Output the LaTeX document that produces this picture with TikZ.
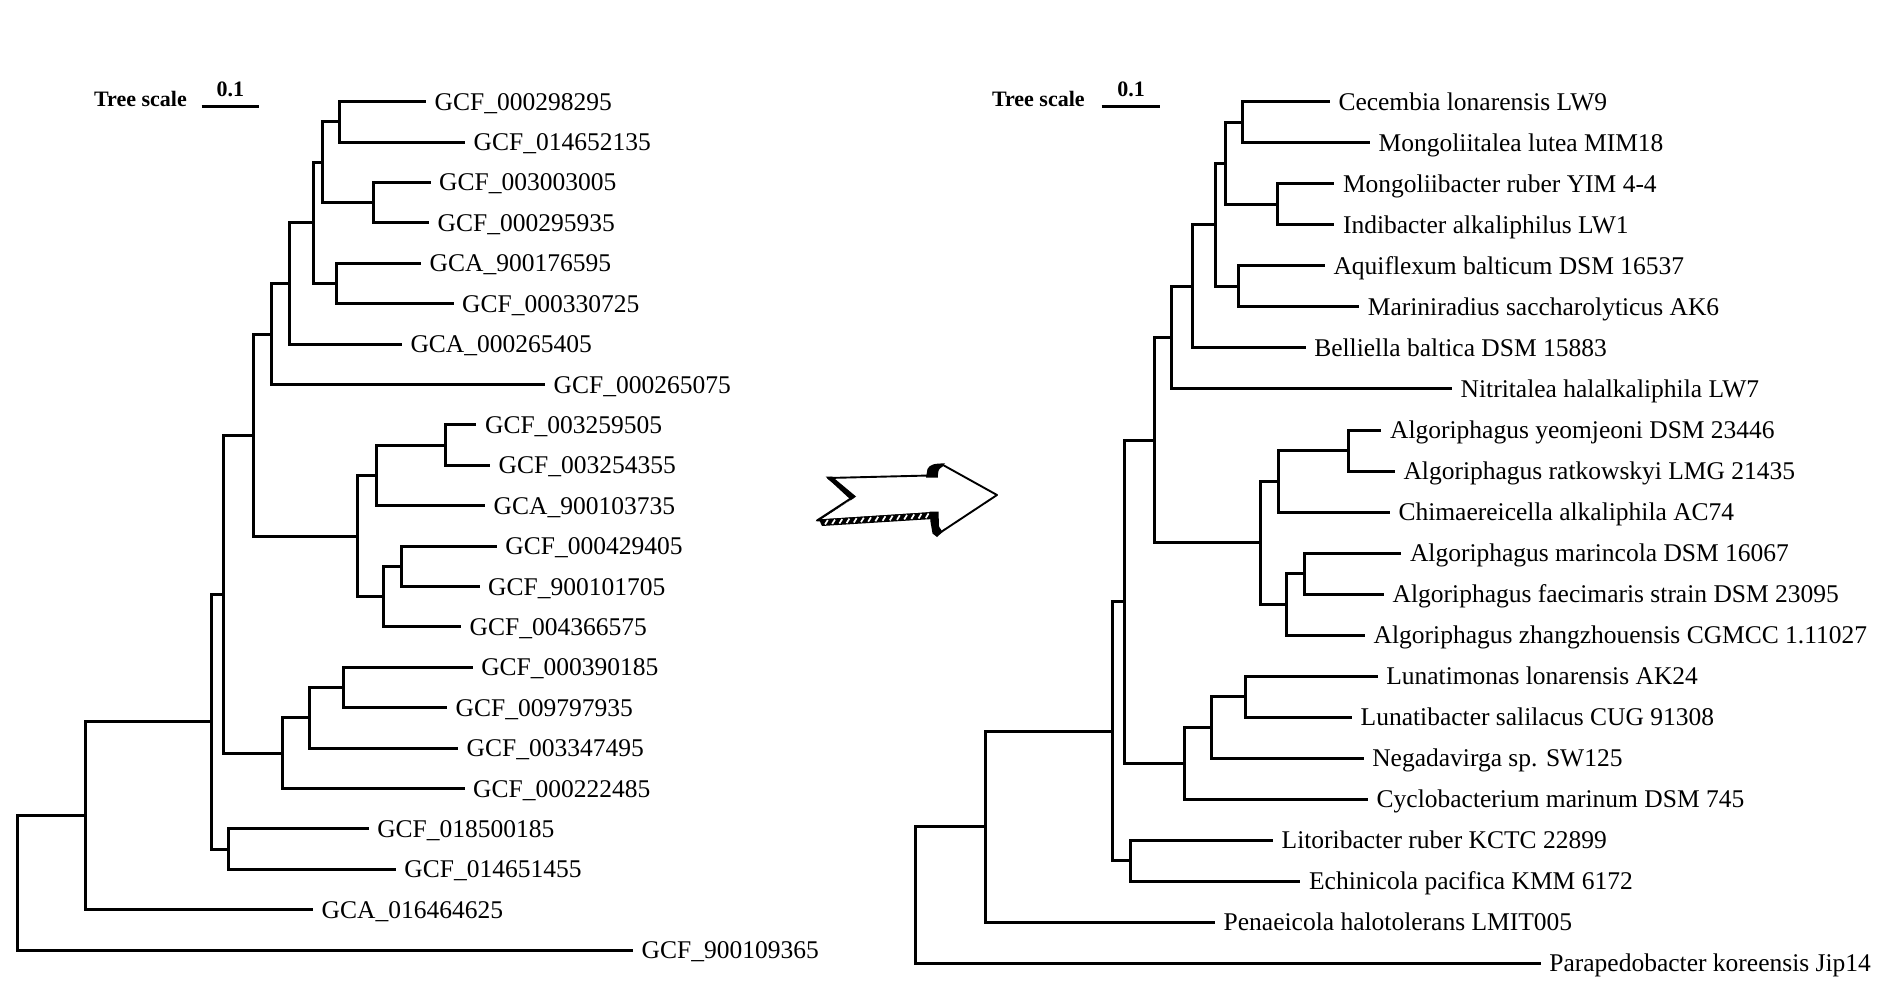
\documentclass[tikz,border=0pt]{standalone}
\usepackage{fontspec}
\setmainfont{Liberation Serif}
\tikzset{
  branch/.style={line width=3pt, line join=miter, line cap=butt},
  lab/.style={anchor=base west, inner sep=0pt, font=\fontsize{25.5}{30}\selectfont},
  scalelab/.style={inner sep=0pt, font=\fontsize{22}{26}\selectfont\bfseries},
  arrowline/.style={line width=1.9pt, line join=round}
}
\newcommand\leafentry[5]{%
  \coordinate (#1) at (#3,#4);
  \draw[branch] (#2) |- (#1);
  \node[lab] (#1t) at ({#3+8.5},{#4+8.5}) {#5};
}
\newcommand\cladeedge[2]{\draw[branch] (#1) |- (#2);}
\begin{document}
\begin{tikzpicture}[x=1pt,y=-1pt]
\useasboundingbox (0,0) rectangle (1892,1008);
\fill[white] (0,0) rectangle (1892,1008);

% ---------- left tree: scale ----------
\node[scalelab, anchor=base west] (ts1) at (94,106.7) {Tree scale};
\node[scalelab, anchor=base] (sv1) at (230.3,96.7) {0.1};
\coordinate (sb1a) at (201.7,106.5);
\coordinate (sb1b) at (259,106.5);
\draw[branch] (sb1a) -- (sb1b);

% ---------- left tree: internal nodes ----------
\coordinate (LA) at (339.4,121.9);
\coordinate (LB) at (373.9,202.7);
\coordinate (LAB) at (322.6,162.3);
\coordinate (LC) at (336,283.5);
\coordinate (LABC) at (313.8,222.9);
\coordinate (LD) at (289.7,283.5);
\coordinate (LE) at (271,334);
\coordinate (LF) at (445,445.1);
\coordinate (LG) at (376,475.4);
\coordinate (LH) at (401,566.3);
\coordinate (LI) at (383.8,596.6);
\coordinate (LGI) at (357.8,536);
\coordinate (LEG) at (253.7,435);
\coordinate (LJ) at (343,687.5);
\coordinate (LM) at (309.5,717.8);
\coordinate (LL) at (282,753.2);
\coordinate (LK) at (223,594.1);
\coordinate (LO) at (228.7,849.1);
\coordinate (LN) at (211.5,721.6);
\coordinate (LP) at (85.6,815.6);
\coordinate (LR) at (17.9,882.9);

\cladeedge{LAB}{LA}
\cladeedge{LAB}{LB}
\cladeedge{LABC}{LAB}
\cladeedge{LABC}{LC}
\cladeedge{LD}{LABC}
\cladeedge{LE}{LD}
\cladeedge{LEG}{LE}
\cladeedge{LEG}{LGI}
\cladeedge{LGI}{LG}
\cladeedge{LGI}{LI}
\cladeedge{LG}{LF}
\cladeedge{LI}{LH}
\cladeedge{LK}{LEG}
\cladeedge{LK}{LL}
\cladeedge{LL}{LM}
\cladeedge{LM}{LJ}
\cladeedge{LN}{LK}
\cladeedge{LN}{LO}
\cladeedge{LP}{LN}
\cladeedge{LR}{LP}

\leafentry{Ll1}{LA}{426}{101.7}{GCF\_000298295}
\leafentry{Ll2}{LA}{465}{142.1}{GCF\_014652135}
\leafentry{Ll3}{LB}{430.5}{182.5}{GCF\_003003005}
\leafentry{Ll4}{LB}{429}{222.9}{GCF\_000295935}
\leafentry{Ll5}{LC}{421}{263.3}{GCA\_900176595}
\leafentry{Ll6}{LC}{453.5}{303.7}{GCF\_000330725}
\leafentry{Ll7}{LD}{401.8}{344.1}{GCA\_000265405}
\leafentry{Ll8}{LE}{545}{384.5}{GCF\_000265075}
\leafentry{Ll9}{LF}{476.4}{424.9}{GCF\_003259505}
\leafentry{Ll10}{LF}{490}{465.3}{GCF\_003254355}
\leafentry{Ll11}{LG}{485}{505.7}{GCA\_900103735}
\leafentry{Ll12}{LH}{496.7}{546.1}{GCF\_000429405}
\leafentry{Ll13}{LH}{479.5}{586.5}{GCF\_900101705}
\leafentry{Ll14}{LI}{461}{626.9}{GCF\_004366575}
\leafentry{Ll15}{LJ}{472.6}{667.3}{GCF\_000390185}
\leafentry{Ll16}{LJ}{447}{707.7}{GCF\_009797935}
\leafentry{Ll17}{LM}{458}{748.1}{GCF\_003347495}
\leafentry{Ll18}{LL}{464.5}{788.5}{GCF\_000222485}
\leafentry{Ll19}{LO}{368.6}{828.9}{GCF\_018500185}
\leafentry{Ll20}{LO}{395.7}{869.3}{GCF\_014651455}
\leafentry{Ll21}{LP}{313}{909.7}{GCA\_016464625}
\leafentry{Ll22}{LR}{633}{950.1}{GCF\_900109365}

% ---------- arrow ----------
\draw[arrowline, fill=white] (828,478) -- (853,497) -- (817,520.5) -- (933,513)
  -- (938,534) -- (997,495) -- (943,465) -- (929,475.5) -- cycle;
\fill (825.5,476.5) -- (832,476.5) -- (856,496.5) -- (851,500) -- cycle;
\fill (851,500) -- (856,496.5) -- (820,520) -- (815.5,521.2) -- cycle;
\fill (819,519.5) -- (933,512) -- (933,519) -- (822,526) -- cycle;
\foreach \i in {0,...,14} {
  \pgfmathsetmacro\xa{825+7.2*\i}
  \draw[white, line width=1.7pt] (\xa,{524.6-0.063*(\xa-822)}) -- ({\xa+2.8},{520.6-0.066*(\xa+2.8-820)});
}
\fill (926,477.5) -- (927.5,469) .. controls (929.5,464.5) and (935,463.2) .. (945,463.5)
  -- (940,467.5) .. controls (938.5,469.5) and (938,472) .. (937.8,477.5) -- cycle;
\fill (929.5,511.5) -- (938.5,511.5) -- (939,526.5) -- (942.5,532) -- (937,537) -- (932.5,533.5) -- (930.5,522) -- cycle;

% ---------- right tree: scale ----------
\node[scalelab, anchor=base west] (ts2) at (991.8,106.7) {Tree scale};
\node[scalelab, anchor=base] (sv2) at (1131,96.7) {0.1};
\coordinate (sb2a) at (1101.7,106.7);
\coordinate (sb2b) at (1160.2,106.7);
\draw[branch] (sb2a) -- (sb2b);

% ---------- right tree: internal nodes ----------
\coordinate (Ra) at (1242.5,122.2);
\coordinate (Rb) at (1277.7,204.3);
\coordinate (Rab) at (1225.3,163.3);
\coordinate (Rc) at (1238.7,286.4);
\coordinate (Rabc) at (1215.7,224.8);
\coordinate (Rd) at (1192,286.4);
\coordinate (Re) at (1171.7,337.6);
\coordinate (Rf) at (1348.9,450.5);
\coordinate (Rg) at (1278.9,481.3);
\coordinate (Rh) at (1304.5,573.6);
\coordinate (Ri) at (1286.5,604.3);
\coordinate (Rgi) at (1260.5,542.8);
\coordinate (Reg) at (1154.5,440.2);
\coordinate (Rj) at (1245.6,696.7);
\coordinate (Rm) at (1211.8,727.4);
\coordinate (Rk) at (1184.6,763.3);
\coordinate (Rq) at (1124.5,601.8);
\coordinate (Rn) at (1130.9,860.7);
\coordinate (Rr) at (1112,731.3);
\coordinate (Rp) at (985.4,826.8);
\coordinate (Rroot) at (915.8,895);

\cladeedge{Rab}{Ra}
\cladeedge{Rab}{Rb}
\cladeedge{Rabc}{Rab}
\cladeedge{Rabc}{Rc}
\cladeedge{Rd}{Rabc}
\cladeedge{Re}{Rd}
\cladeedge{Reg}{Re}
\cladeedge{Reg}{Rgi}
\cladeedge{Rgi}{Rg}
\cladeedge{Rgi}{Ri}
\cladeedge{Rg}{Rf}
\cladeedge{Ri}{Rh}
\cladeedge{Rq}{Reg}
\cladeedge{Rq}{Rk}
\cladeedge{Rk}{Rm}
\cladeedge{Rm}{Rj}
\cladeedge{Rr}{Rq}
\cladeedge{Rr}{Rn}
\cladeedge{Rp}{Rr}
\cladeedge{Rroot}{Rp}

\leafentry{Rl1}{Ra}{1329.8}{101.7}{Cecembia lonarensis LW9}
\leafentry{Rl2}{Ra}{1370}{142.7}{Mongoliitalea lutea MIM18}
\leafentry{Rl3}{Rb}{1334.3}{183.8}{Mongoliibacter ruber YIM 4-4}
\leafentry{Rl4}{Rb}{1334.3}{224.8}{Indibacter alkaliphilus LW1}
\leafentry{Rl5}{Rc}{1324.8}{265.8}{Aquiflexum balticum DSM 16537}
\leafentry{Rl6}{Rc}{1359.2}{306.9}{Mariniradius saccharolyticus AK6}
\leafentry{Rl7}{Rd}{1305.6}{347.9}{Belliella baltica DSM 15883}
\leafentry{Rl8}{Re}{1452}{388.9}{Nitritalea halalkaliphila LW7}
\leafentry{Rl9}{Rf}{1381.4}{430}{Algoriphagus yeomjeoni DSM 23446}
\leafentry{Rl10}{Rf}{1394.8}{471}{Algoriphagus ratkowskyi LMG 21435}
\leafentry{Rl11}{Rg}{1389.8}{512}{Chimaereicella alkaliphila AC74}
\leafentry{Rl12}{Rh}{1401.3}{553}{Algoriphagus marincola DSM 16067}
\leafentry{Rl13}{Rh}{1384}{594.1}{Algoriphagus faecimaris strain DSM 23095}
\leafentry{Rl14}{Ri}{1365}{635.1}{Algoriphagus zhangzhouensis CGMCC 1.11027}
\leafentry{Rl15}{Rj}{1377.6}{676.1}{Lunatimonas lonarensis AK24}
\leafentry{Rl16}{Rj}{1352}{717.2}{Lunatibacter salilacus CUG 91308}
\leafentry{Rl17}{Rm}{1363.6}{758.2}{Negadavirga sp. SW125}
\leafentry{Rl18}{Rk}{1368}{799.2}{Cyclobacterium marinum DSM 745}
\leafentry{Rl19}{Rn}{1273}{840.2}{Litoribacter ruber KCTC 22899}
\leafentry{Rl20}{Rn}{1300.4}{881.3}{Echinicola pacifica KMM 6172}
\leafentry{Rl21}{Rp}{1215}{922.3}{Penaeicola halotolerans LMIT005}
\leafentry{Rl22}{Rroot}{1540.7}{963.3}{Parapedobacter koreensis Jip14}
\end{tikzpicture}
\end{document}
